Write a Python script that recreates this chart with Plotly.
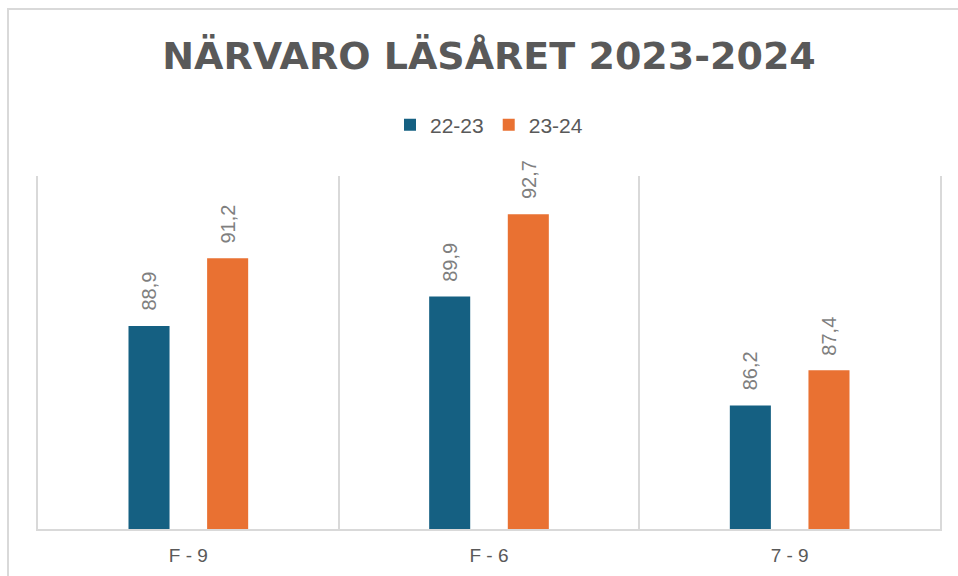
import plotly.graph_objects as go

categories = ["F - 9", "F - 6", "7 - 9"]
series_names = ["22-23", "23-24"]
values_2223 = [88.9, 89.9, 86.2]
values_2324 = [91.2, 92.7, 87.4]
colors = ["#156082", "#E97132"]

W, H = 958, 576
ML, MR, MT, MB = 38, 18, 176, 47
plot_w = W - ML - MR
plot_h = H - MT - MB

fig = go.Figure()
for name, vals, col in zip(series_names, [values_2223, values_2324], colors):
    fig.add_trace(go.Bar(
        x=categories, y=vals, name=name,
        marker=dict(color=col, line=dict(width=0)),
    ))

bargap = 0.477
bargroupgap = 0.478
slot = (1 - bargap) * plot_w / len(categories) / 2

annotations = []
for k, vals in enumerate([values_2223, values_2324]):
    shift = (k - 0.5) * slot
    for c, v in zip(categories, vals):
        annotations.append(dict(
            x=c, y=v, xref="x", yref="y",
            text=f"{v:.1f}".replace(".", ","),
            showarrow=False, textangle=-90,
            xanchor="center", yanchor="bottom",
            xshift=shift, yshift=13,
            font=dict(family="Liberation Sans, Arial", size=20, color="#7f7f7f"),
        ))

# outer chart frame
fx0 = (8 - ML) / plot_w
fy1 = (H - MB - 9) / plot_h

fig.update_layout(
    width=W, height=H,
    margin=dict(l=ML, r=MR, t=MT, b=MB, autoexpand=False),
    paper_bgcolor="white", plot_bgcolor="white",
    barmode="group", bargap=bargap, bargroupgap=bargroupgap,
    title=dict(
        text="<b>NÄRVARO LÄSÅRET 2023-2024</b>",
        x=0.5, xref="paper", xanchor="center",
        y=1 - 56 / H, yref="container", yanchor="middle",
        font=dict(family="DejaVu Sans", size=38, color="#595959"),
    ),
    legend=dict(
        orientation="h", x=0.5, xanchor="center",
        y=(H - MB - 125) / plot_h, yanchor="middle",
        font=dict(family="Liberation Sans, Arial", size=21, color="#595959"),
        traceorder="normal",
    ),
    xaxis=dict(
        type="category",
        tickson="boundaries",
        showgrid=True, gridcolor="#d9d9d9", gridwidth=1.5,
        showline=True, linecolor="#d9d9d9", linewidth=2,
        ticks="",
        ticklabelstandoff=8,
        tickfont=dict(family="Liberation Sans, Arial", size=19, color="#595959"),
        automargin=False,
        fixedrange=True,
    ),
    yaxis=dict(
        range=[82, 94],
        showgrid=False, showticklabels=False, zeroline=False,
        showline=True, mirror=True, linecolor="#d9d9d9", linewidth=1.5,
        ticks="",
        automargin=False,
        fixedrange=True,
    ),
    annotations=annotations,
    shapes=[dict(
        type="rect", xref="paper", yref="paper",
        x0=fx0, x1=1.2, y0=-0.3, y1=fy1,
        line=dict(color="#d9d9d9", width=2), fillcolor="rgba(0,0,0,0)",
        layer="below",
    )],
    showlegend=True,
)

fig.write_html(
    "out.html",
    config={"displayModeBar": False},
    post_script="document.body.style.margin='0';document.body.style.overflow='hidden';",
)
